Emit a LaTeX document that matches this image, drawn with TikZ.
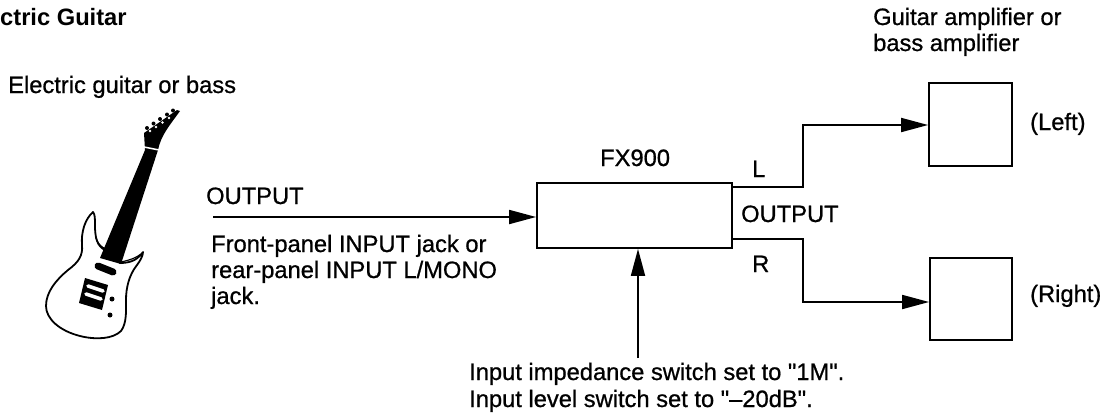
\documentclass[tikz,border=0pt]{standalone}
\usepackage{fontspec}
\setmainfont{Liberation Sans}[Ligatures=TeXOff, UprightFeatures={FakeBold=0.8}]
\usetikzlibrary{arrows.meta}
\begin{document}
\begin{tikzpicture}[x=1pt,y=-1pt,
  lbl/.style={inner sep=0pt, anchor=base west, font=\fontsize{23.7pt}{26pt}\selectfont},
  titlest/.style={inner sep=0pt, anchor=base west, font=\bfseries\fontsize{23.7pt}{26pt}\selectfont},
  boxst/.style={draw, line width=1.8pt, inner sep=0pt},
  conn/.style={line width=1.8pt, -{Triangle[length=27pt,width=14pt]}},
  gline/.style={line width=1.8pt, line join=round}]
\useasboundingbox (0,0) rectangle (1103,416);

% ---------- guitar ----------
\draw[gline, fill=white] (93,212)
  .. controls (85,219) and (81,232) .. (82,245)
  .. controls (83,255) and (79,262) .. (68,270)
  .. controls (56,280) and (46,292) .. (46,306)
  .. controls (46,319) and (60,331) .. (80,336)
  .. controls (96,340) and (113,339) .. (121,331)
  .. controls (127,323) and (126,310) .. (126,300)
  .. controls (126,288) and (129,275) .. (137,265)
  .. controls (140,261) and (143,256) .. (143,252)
  .. controls (138,259) and (132,263) .. (120,263)
  -- (105,250)
  .. controls (97,246) and (95,238) .. (95,225)
  .. controls (95,219) and (95,214) .. (93,212) -- cycle;
\draw[line width=1.2pt] (96,238) .. controls (98,244) and (101,247) .. (106,249);
\draw[line width=1.2pt] (121,262) .. controls (130,260) and (136,258) .. (141,254);
\fill (100,258) -- (145,150) -- (144,133) -- (177,110) -- (180,111)
  .. controls (170,125) and (161,135) .. (158,150) -- (121,264) -- cycle;
\draw[white, line width=1.5pt] (144,147) -- (159,150);
\foreach \px/\py in {147/128, 153.5/123.5, 160/119, 167/114.5, 173/110.5}
  \fill (\px,\py) circle (2);
\foreach \px/\py in {150/131, 156/127, 162.5/122.5, 169/118}
  \fill[white] (\px,\py) circle (1.3);
\draw[white, line width=10pt, line cap=round] (98,266) -- (113,272);
\draw[line width=7pt, line cap=round] (98,266) -- (113,272);
\fill (85,278) -- (108,285) -- (102,310) -- (79,303) -- cycle;
\draw[white, line width=3.5pt, line cap=round] (88,286) -- (103,291);
\draw[white, line width=3.5pt, line cap=round] (86,294) -- (101,299);
\fill (112,299) circle (2.5);
\fill (110,315) circle (2.5);

% ---------- boxes ----------
\node[boxst, minimum width=195pt, minimum height=65pt] (fx) at (634.5,215.5) {};
\node[boxst, minimum width=83pt, minimum height=83pt] (ampL) at (970.5,124.5) {};
\node[boxst, minimum width=82pt, minimum height=82pt] (ampR) at (971,299) {};

% ---------- connectors ----------
\coordinate (gout) at (213,217);
\draw[conn] (gout) -- (gout -| fx.west);
\coordinate (lbend) at (803,125);
\draw[conn] (fx.east |- 0,187) -| (lbend) -- (lbend -| ampL.west);
\coordinate (rbend) at (803,302);
\draw[conn] (fx.east |- 0,239) -| (rbend) -- (rbend -| ampR.west);
\coordinate (inp) at (638,358);
\draw[conn] (inp) -- (inp |- fx.south);

% ---------- texts ----------
\node[titlest] (title) at (0,25) {ctric Guitar};
\node[lbl] (t1) at (8,93) {Electric guitar or bass};
\node[lbl] (o1) at (206,204) {OUTPUT};
\node[lbl] (f1) at (211,252) {Front-panel INPUT jack or};
\node[lbl] (f2) at (211,278) {rear-panel INPUT L/MONO};
\node[lbl] (f3) at (211,304) {jack.};
\node[lbl] (fxl) at (600,166) {FX900};
\node[lbl] (ll) at (752,177) {L};
\node[lbl] (o2) at (741,222) {OUTPUT};
\node[lbl] (rl) at (752,272) {R};
\node[lbl] (g1) at (873,25) {Guitar amplifier or};
\node[lbl] (g2) at (873,51) {bass amplifier};
\node[lbl] (lefttxt) at (1030,130) {(Left)};
\node[lbl] (righttxt) at (1030,302) {(Right)};
\node[lbl] (i1) at (469,380) {Input impedance switch set to "1M".};
\node[lbl] (i2) at (469,407) {Input level switch set to "–20dB".};
\end{tikzpicture}
\end{document}
